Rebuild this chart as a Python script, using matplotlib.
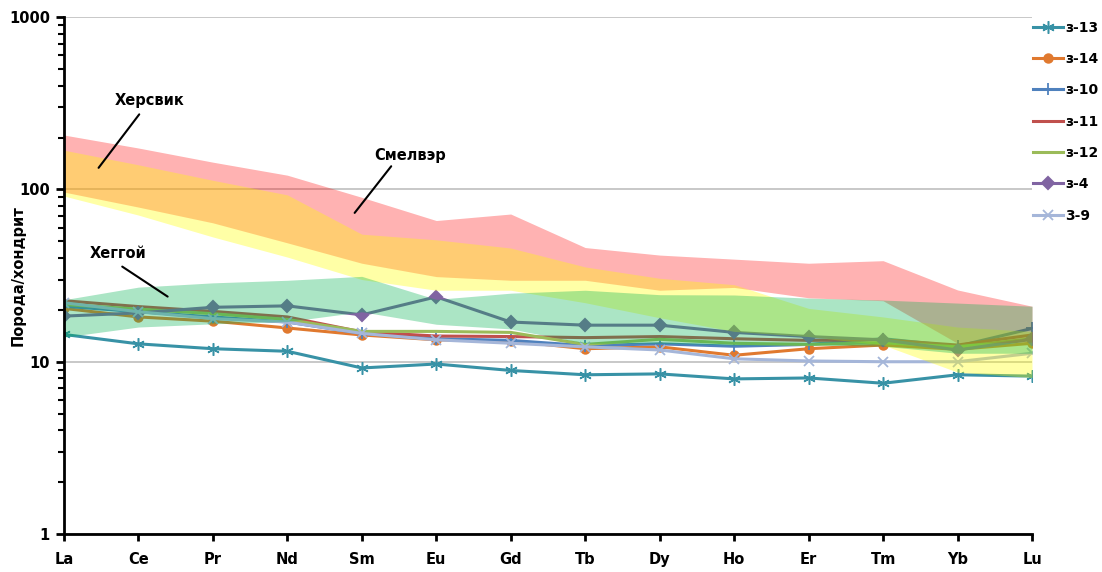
import numpy as np
import matplotlib
matplotlib.use('Agg')
import matplotlib.pyplot as plt
from matplotlib.ticker import LogLocator, NullFormatter, FixedLocator, FixedFormatter

# Элементы (РЗЭ)
elements = ['La', 'Ce', 'Pr', 'Nd', 'Sm', 'Eu', 'Gd', 'Tb', 'Dy', 'Ho', 'Er', 'Tm', 'Yb', 'Lu']

# Поля сравнения (верхняя и нижняя граница)
smelver_hi = [207, 174, 144, 121, 90, 66, 72, 46, 41.6, 39.4, 37.3, 38.6, 26.1, 21]
smelver_lo = [96.6, 79, 64, 49, 37.3, 31.2, 29.7, 29.7, 26, 27, 23.5, 22.6, 12.8, 13]
hersvik_hi = [169, 139, 113, 93, 55, 51, 45.7, 35.5, 30.5, 28, 20.4, 18.2, 15.9, 15]
hersvik_lo = [91.6, 71, 53, 40.5, 30, 26, 26, 22, 18, 15, 14, 12.5, 8.7, 8.1]
heggoy_hi = [22.9, 27.1, 28.7, 29.7, 31.3, 23, 25, 26, 24.5, 24.4, 23.4, 22.8, 21.9, 21]
heggoy_lo = [13.9, 15.9, 16.6, 17.1, 19.5, 16.5, 15.5, 12.8, 12.8, 12.5, 12.5, 12.3, 11.2, 11.2]

# Пробы
z13 = [14.4, 12.7, 11.9, 11.5, 9.2, 9.7, 8.9, 8.4, 8.5, 7.95, 8.05, 7.5, 8.4, 8.25]
z14 = [20.4, 18.2, 17.2, 15.7, 14.3, 13.4, 13.2, 11.9, 12.2, 10.9, 11.9, 12.5, 11.8, 12.8]
z10 = [21.0, 19.5, 18.2, 17.0, 14.6, 13.6, 13.3, 12.4, 12.7, 12.3, 12.6, 13.6, 12.3, 15.6]
z11 = [22.6, 20.9, 19.6, 18.2, 14.9, 14.1, 14.0, 13.8, 14.0, 13.6, 13.3, 13.4, 12.5, 14.3]
z12 = [21.5, 20.2, 19.0, 17.6, 15.0, 15.0, 14.8, 12.6, 13.5, 12.8, 12.6, 12.9, 12.2, 13.6]
z4 = [18.4, 19.2, 20.7, 21.1, 18.7, 23.8, 17.0, 16.3, 16.3, 14.8, 14.0, 13.4, 11.7, 13.5]
z9 = [22.0, 19.5, 17.8, 17.0, 14.6, 13.4, 12.8, 12.2, 11.7, 10.4, 10.1, 10.0, 10.0, 11.2]


def main():
    x = np.arange(len(elements))

    fig = plt.figure(figsize=(11.02, 5.72), dpi=100)
    ax = fig.add_axes([0.058, 0.0664, 0.8785, 0.9036])

    # Линии проб (под полями, как в Excel)
    series = [
        ('з-13', z13, '#3892a6', (6, 2, 0), 9, 1.1),
        ('з-14', z14, '#e0792f', 'o', 6, 1.5),
        ('з-10', z10, '#4f81bd', '+', 9, 1.3),
        ('з-11', z11, '#c0504d', None, 0, 1.5),
        ('з-12', z12, '#9bbb59', None, 0, 1.5),
        ('з-4', z4, '#8064a2', 'D', 6, 1.5),
        ('3-9', z9, '#a5b6d9', 'x', 7, 1.3),
    ]
    for name, vals, col, mk, ms, mew in series:
        ax.plot(x, vals, color=col, lw=2.2, marker=mk, markersize=ms,
                markeredgewidth=mew, label=name, zorder=2)

    # Поля
    ax.fill_between(x, smelver_lo, smelver_hi, color='#ff0000', alpha=0.3, lw=0, zorder=3)
    ax.fill_between(x, hersvik_lo, hersvik_hi, color='#ffff00', alpha=0.35, lw=0, zorder=4)
    ax.fill_between(x, heggoy_lo, heggoy_hi, color='#00b050', alpha=0.33, lw=0, zorder=5)

    ax.set_yscale('log')
    ax.set_ylim(1, 1000)
    ax.set_xlim(0, len(elements) - 1)

    ax.yaxis.set_major_locator(FixedLocator([1, 10, 100, 1000]))
    ax.yaxis.set_major_formatter(FixedFormatter(['1', '10', '100', '1000']))
    ax.yaxis.set_minor_locator(LogLocator(base=10, subs=np.arange(2, 10)))
    ax.yaxis.set_minor_formatter(NullFormatter())
    ax.set_xticks(x)
    ax.set_xticklabels(elements)

    ax.grid(axis='y', which='major', color='#bfbfbf', lw=1.2, zorder=0)
    ax.set_axisbelow(True)

    for s in ['top', 'right']:
        ax.spines[s].set_visible(False)
    for s in ['left', 'bottom']:
        ax.spines[s].set_linewidth(2)
        ax.spines[s].set_zorder(10)

    ax.tick_params(axis='y', which='major', direction='out', length=6, width=2, pad=4)
    ax.tick_params(axis='y', which='minor', direction='out', length=4, width=1.5)
    ax.tick_params(axis='x', direction='out', length=5, width=2, pad=8)
    for lab in ax.get_xticklabels() + ax.get_yticklabels():
        lab.set_fontweight('bold')
        lab.set_fontsize(10.5)

    ax.set_ylabel('Порода/хондрит', fontsize=10.5, fontweight='bold')
    ax.yaxis.set_label_coords(-0.040, 0.5)

    # Подписи полей
    ax.text(1.155, 330, 'Херсвик', ha='center', va='center', fontsize=10.5, fontweight='bold')
    ax.annotate('', xy=(0.443, 129.6), xytext=(1.034, 281),
                arrowprops=dict(arrowstyle='-', lw=1.5, color='black'), zorder=8)
    ax.text(4.647, 158.4, 'Смелвэр', ha='center', va='center', fontsize=10.5, fontweight='bold')
    ax.annotate('', xy=(3.881, 71), xytext=(4.418, 140.4),
                arrowprops=dict(arrowstyle='-', lw=1.5, color='black'), zorder=8)
    ax.text(0.725, 42.2, 'Хеггой', ha='center', va='center', fontsize=10.5, fontweight='bold')
    ax.annotate('', xy=(1.424, 23.4), xytext=(0.752, 36.4),
                arrowprops=dict(arrowstyle='-', lw=1.5, color='black'), zorder=8)

    fig.legend(loc='upper left', bbox_to_anchor=(1027 / 1102, 1 - 15 / 572),
               frameon=False, handlelength=2.2, handletextpad=0.15,
               borderaxespad=0.0, labelspacing=1.25, prop={'weight': 'bold', 'size': 10})

    fig.savefig('out.png', dpi=100)


if __name__ == "__main__":
    main()
